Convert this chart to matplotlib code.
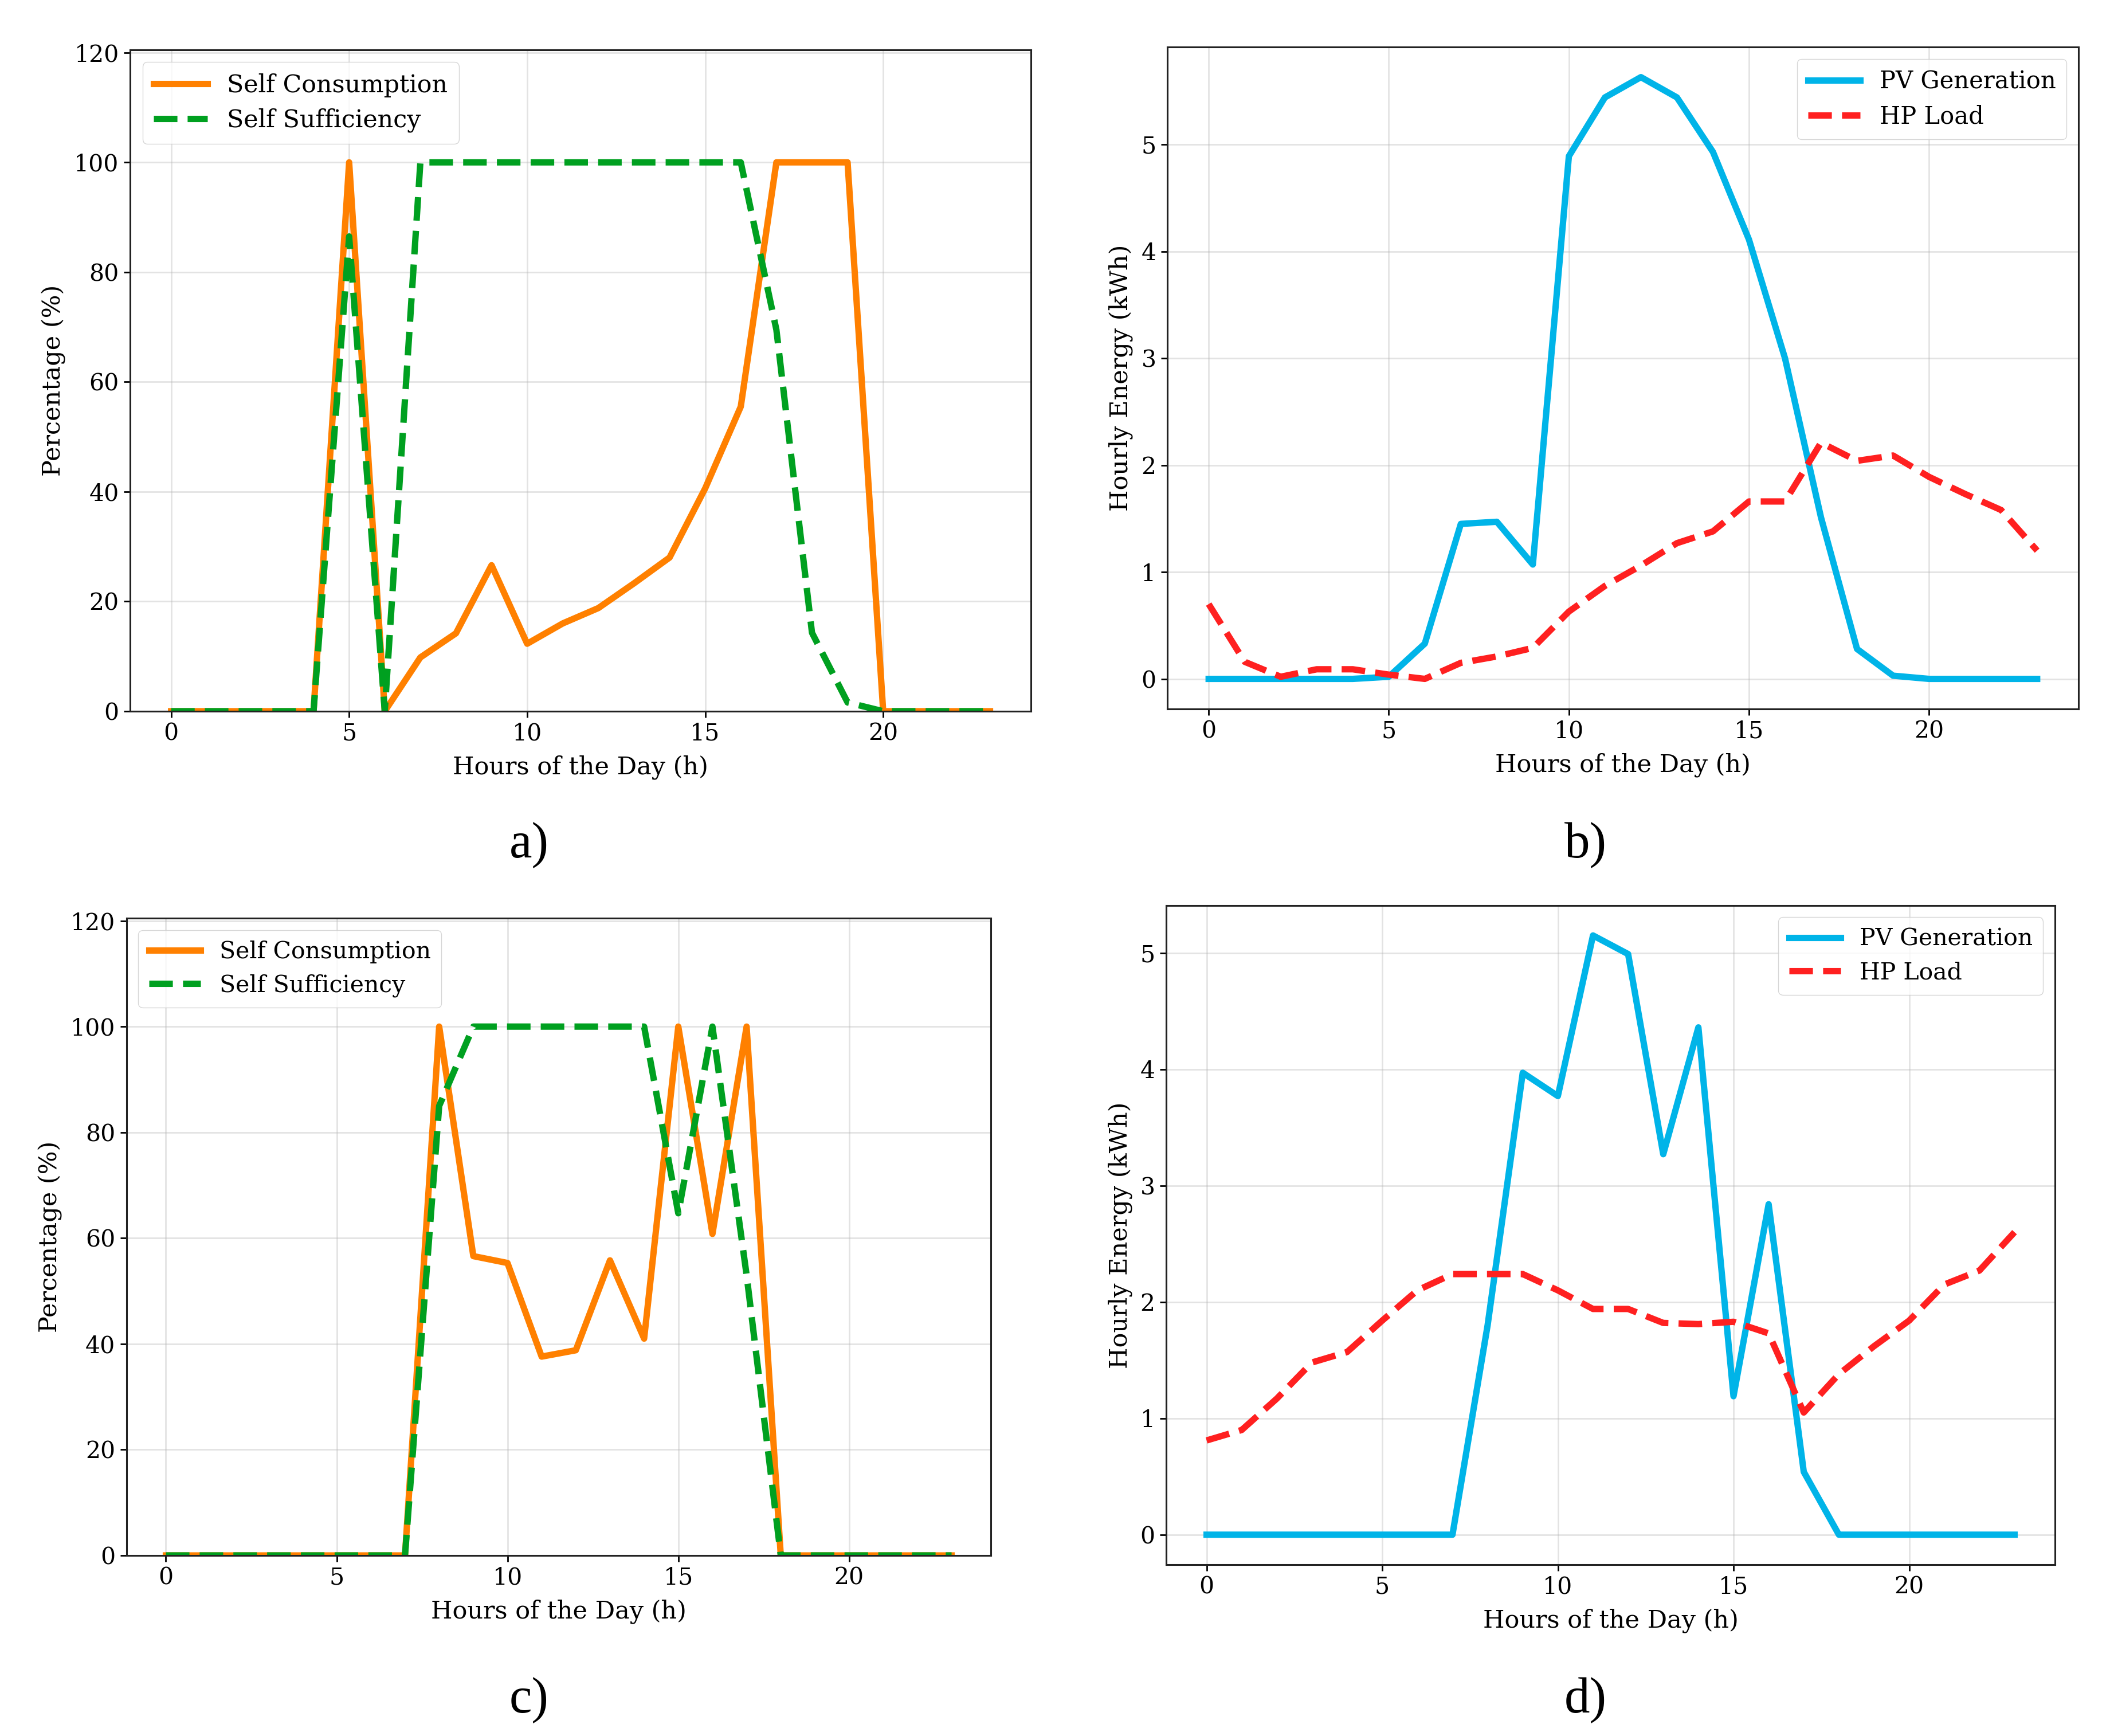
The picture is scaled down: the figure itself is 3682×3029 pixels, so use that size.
import matplotlib
matplotlib.use("Agg")
import matplotlib.pyplot as plt
import numpy as np

# ---------------- data ----------------
hours = list(range(24))

a_self_consumption = [0, 0, 0, 0, 0, 100, 0, 9.8, 14.2, 26.6, 12.3, 16.0, 18.8, 23.3,
                      28.0, 40.6, 55.5, 100, 100, 100, 0, 0, 0, 0]
a_self_sufficiency = [0, 0, 0, 0, 0, 86.5, 0, 100, 100, 100, 100, 100, 100, 100,
                      100, 100, 100, 69.5, 14.3, 1.6, 0, 0, 0, 0]

b_pv_generation = [0, 0, 0, 0, 0, 0.02, 0.33, 1.45, 1.47, 1.07, 4.89, 5.44, 5.63, 5.44,
                   4.93, 4.11, 3.00, 1.51, 0.28, 0.03, 0, 0, 0, 0]
b_hp_load = [0.70, 0.16, 0.02, 0.09, 0.09, 0.04, 0.00, 0.15, 0.21, 0.29, 0.63, 0.87,
             1.06, 1.27, 1.38, 1.66, 1.66, 2.21, 2.04, 2.09, 1.89, 1.73, 1.58, 1.20]

c_self_consumption = [0, 0, 0, 0, 0, 0, 0, 0, 100, 56.6, 55.3, 37.6, 38.8, 55.8,
                      41.0, 100, 60.8, 100, 0, 0, 0, 0, 0, 0]
c_self_sufficiency = [0, 0, 0, 0, 0, 0, 0, 0, 85, 100, 100, 100, 100, 100,
                      100, 64.7, 100, 53, 0, 0, 0, 0, 0, 0]

d_pv_generation = [0, 0, 0, 0, 0, 0, 0, 0, 1.80, 3.97, 3.77, 5.15, 4.99, 3.27,
                   4.36, 1.19, 2.84, 0.54, 0, 0, 0, 0, 0, 0]
d_hp_load = [0.81, 0.90, 1.17, 1.48, 1.57, 1.84, 2.10, 2.24, 2.24, 2.24, 2.10, 1.94,
             1.94, 1.82, 1.81, 1.83, 1.73, 1.05, 1.38, 1.62, 1.84, 2.15, 2.27, 2.60]

panel_labels = ["a)", "b)", "c)", "d)"]
xlabel = "Hours of the Day (h)"
pct_label = "Percentage (%)"
energy_label = "Hourly Energy (kWh)"

# ---------------- style ----------------
ORANGE = "#ff8000"
GREEN = "#00a020"
BLUE = "#00b4e8"
RED = "#ff2020"
LW = 8
FONT = "DejaVu Serif"

plt.rcParams["font.family"] = [FONT]
plt.rcParams["axes.linewidth"] = 2.2
plt.rcParams["axes.edgecolor"] = "#222222"

fig = plt.figure(figsize=(36.82, 30.29), dpi=100)

positions = {
    "a": [0.0617, 0.5903, 0.4269, 0.3810],
    "b": [0.5532, 0.5916, 0.4319, 0.3813],
    "c": [0.0600, 0.1040, 0.4096, 0.3671],
    "d": [0.5527, 0.0987, 0.4212, 0.3797],
}


def style_axes(ax, ylabel):
    ax.grid(True, color="#b0b0b0", alpha=0.35, linewidth=2.0)
    ax.set_axisbelow(True)
    ax.tick_params(axis="both", labelsize=29.5, length=8, width=2, pad=6)
    ax.set_xlabel(xlabel, fontsize=31, labelpad=12)
    ax.set_ylabel(ylabel, fontsize=31, labelpad=10)
    ax.set_xticks([0, 5, 10, 15, 20])


def legend(ax, loc, size):
    ax.legend(loc=loc, fontsize=size, handlelength=2.2, framealpha=0.8,
              borderpad=0.45, labelspacing=0.45)


# Panel a
ax = fig.add_axes(positions["a"])
ax.plot(hours, a_self_consumption, color=ORANGE, lw=LW, label="Self Consumption")
ax.plot(hours, a_self_sufficiency, color=GREEN, lw=LW, ls="--", label="Self Sufficiency")
ax.set_ylim(0, 120.5)
ax.set_yticks([0, 20, 40, 60, 80, 100, 120])
style_axes(ax, pct_label)
legend(ax, "upper left", 30.8)

# Panel b
ax = fig.add_axes(positions["b"])
ax.plot(hours, b_pv_generation, color=BLUE, lw=LW, label="PV Generation")
ax.plot(hours, b_hp_load, color=RED, lw=LW, ls="--", label="HP Load")
style_axes(ax, energy_label)
legend(ax, "upper right", 30)

# Panel c
ax = fig.add_axes(positions["c"])
ax.plot(hours, c_self_consumption, color=ORANGE, lw=LW, label="Self Consumption")
ax.plot(hours, c_self_sufficiency, color=GREEN, lw=LW, ls="--", label="Self Sufficiency")
ax.set_ylim(0, 120.5)
ax.set_yticks([0, 20, 40, 60, 80, 100, 120])
style_axes(ax, pct_label)
legend(ax, "upper left", 29.5)

# Panel d
ax = fig.add_axes(positions["d"])
ax.plot(hours, d_pv_generation, color=BLUE, lw=LW, label="PV Generation")
ax.plot(hours, d_hp_load, color=RED, lw=LW, ls="--", label="HP Load")
style_axes(ax, energy_label)
legend(ax, "upper right", 29.5)

# Panel labels
label_pos = [(923 / 3682, 1 - 1475 / 3029), (2767 / 3682, 1 - 1475 / 3029),
             (923 / 3682, 1 - 2967 / 3029), (2767 / 3682, 1 - 2967 / 3029)]
for lab, (x, y) in zip(panel_labels, label_pos):
    fig.text(x, y, lab, fontsize=64, family=["Liberation Serif", "DejaVu Serif"],
             ha="center", va="center")

fig.savefig("out.png", dpi=100, facecolor="white")
